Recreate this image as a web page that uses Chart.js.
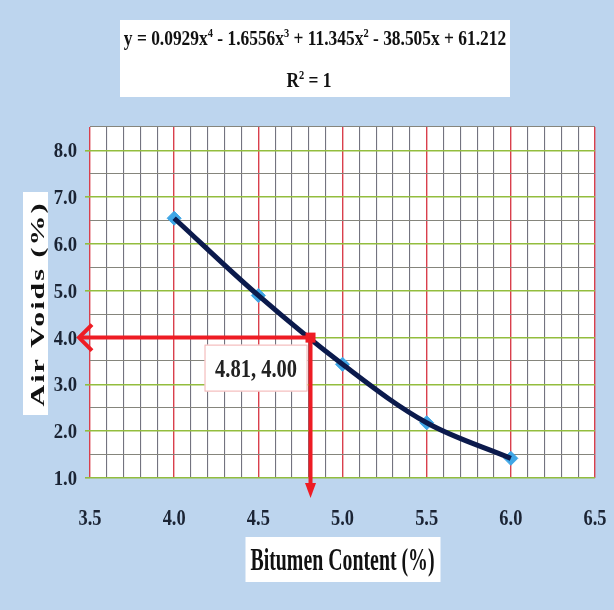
<!DOCTYPE html>
<html>
<head>
<meta charset="utf-8">
<script src="https://cdn.jsdelivr.net/npm/chart.js@4/dist/chart.umd.min.js"></script>
<style>
  html, body { margin: 0; padding: 0; background: #bdd5ee; overflow: hidden; }
  #wrap { width: 614px; height: 610px; position: relative; }
</style>
</head>
<body>
<div id="wrap"><canvas id="chart"></canvas></div>
<script>
// Marshall mix design: air voids against bitumen content
const bitumenContent = [4.0, 4.5, 5.0, 5.5, 6.0];
const airVoids = [6.55, 4.90, 3.43, 2.18, 1.42];

// Design point read at 4 % air voids
const optimumPoint = [4.81, 4.00];

// 4th-order polynomial trend, highest power first
const trendCoefficients = [0.0929, -1.6556, 11.345, -38.505, 61.212];
const trendPowers = [4, 3, 2, 1, 0];
const rSquared = 1;

// Axis ranges, gridline steps and labelled ticks
const xRange = [3.5, 6.5];
const yRange = [1.0, 8.5];
const xGridStep = 0.1;
const yGridStep = 0.5;
const xTickLabels = ['3.5', '4.0', '4.5', '5.0', '5.5', '6.0', '6.5'];
const yTickLabels = ['1.0', '2.0', '3.0', '4.0', '5.0', '6.0', '7.0', '8.0'];

const xTitle = 'Bitumen Content (%)';
const yTitle = 'Air Voids (%)';

const SERIF = "'Liberation Serif', 'Times New Roman', serif";
const BG = '#bdd5ee';
const ARROW_RED = '#ee1c24';
const TICK_INK = '#1b2434';

const near = (v, step) => Math.abs(v / step - Math.round(v / step)) < 1e-6;

function gridValues(range, step) {
  const n = Math.round((range[1] - range[0]) / step);
  const out = [];
  for (let i = 0; i <= n; i++) out.push({ value: +(range[0] + i * step).toFixed(4) });
  return out;
}

// Draws a run of text pieces (some raised as superscripts), squeezed
// horizontally by sx; align is 'center' or 'right' about x.
function drawRich(ctx, pieces, x0, baseY, size, sx, align) {
  ctx.save();
  ctx.translate(x0, baseY);
  ctx.scale(sx, 1);
  ctx.textBaseline = 'alphabetic';
  ctx.textAlign = 'left';
  const fontFor = p => `bold ${p.sup ? Math.round(size * 0.6) : size}px ${SERIF}`;
  let total = 0;
  pieces.forEach(p => { ctx.font = fontFor(p); total += ctx.measureText(p.t).width; });
  let x = align === 'right' ? -total : -total / 2;
  pieces.forEach(p => {
    ctx.font = fontFor(p);
    ctx.fillText(p.t, x, p.sup ? -size * 0.38 : 0);
    x += ctx.measureText(p.t).width;
  });
  ctx.restore();
}

function equationPieces() {
  const pieces = [{ t: 'y = ' }];
  trendCoefficients.forEach((c, i) => {
    const p = trendPowers[i];
    let s = '';
    if (i > 0) s += c < 0 ? ' - ' : ' + ';
    else if (c < 0) s += '-';
    s += String(Math.abs(c));
    if (p >= 1) s += 'x';
    pieces.push({ t: s });
    if (p >= 2) pieces.push({ t: String(p), sup: true });
  });
  return pieces;
}

const decorPlugin = {
  id: 'decor',
  beforeDraw(chart) {
    const { ctx, chartArea: a } = chart;
    ctx.save();
    ctx.fillStyle = BG;
    ctx.fillRect(0, 0, chart.width, chart.height);
    ctx.fillStyle = '#ffffff';
    ctx.fillRect(a.left, a.top, a.right - a.left, a.bottom - a.top);
    ctx.restore();
  },
  afterDatasetsDraw(chart) {
    const { ctx, chartArea: a } = chart;
    const xs = chart.scales.x, ys = chart.scales.y;
    const px = xs.getPixelForValue(optimumPoint[0]);
    const py = ys.getPixelForValue(optimumPoint[1]);

    ctx.save();
    ctx.strokeStyle = ARROW_RED;
    ctx.fillStyle = ARROW_RED;
    ctx.lineWidth = 4;
    ctx.lineCap = 'butt';

    // horizontal leader to the air-void axis
    const tipX = a.left - 12;
    ctx.beginPath();
    ctx.moveTo(px, py);
    ctx.lineTo(tipX + 2, py);
    ctx.stroke();
    ctx.lineJoin = 'miter';
    ctx.beginPath();
    ctx.moveTo(tipX + 14, py - 13);
    ctx.lineTo(tipX + 1, py);
    ctx.lineTo(tipX + 14, py + 13);
    ctx.stroke();

    // vertical leader to the bitumen axis
    const tipY = a.bottom + 20;
    ctx.beginPath();
    ctx.moveTo(px, py);
    ctx.lineTo(px, tipY - 12);
    ctx.stroke();
    ctx.beginPath();
    ctx.moveTo(px - 5.5, tipY - 15);
    ctx.lineTo(px + 5.5, tipY - 15);
    ctx.lineTo(px, tipY);
    ctx.closePath();
    ctx.fill();

    // design point marker
    ctx.fillRect(px - 5, py - 5, 10, 10);

    // data label for the design point
    const bw = 103, bh = 47;
    const bx = px - 3 - bw, by = py + 7;
    ctx.fillStyle = '#ffffff';
    ctx.fillRect(bx, by, bw, bh);
    ctx.lineWidth = 1;
    ctx.strokeStyle = '#f2b0b0';
    ctx.strokeRect(bx + 0.5, by + 0.5, bw - 1, bh - 1);
    ctx.fillStyle = '#222222';
    drawRich(ctx, [{ t: optimumPoint[0].toFixed(2) + ', ' + optimumPoint[1].toFixed(2) }],
      bx + bw / 2, by + 32, 25, 0.82);
    ctx.restore();
  },
  afterDraw(chart) {
    const { ctx, chartArea: a } = chart;
    const xs = chart.scales.x, ys = chart.scales.y;
    ctx.save();

    // tick labels, placed by the scales
    ctx.fillStyle = TICK_INK;
    xTickLabels.forEach(lbl => {
      drawRich(ctx, [{ t: lbl }], xs.getPixelForValue(parseFloat(lbl)), a.bottom + 47, 23, 0.8, 'center');
    });
    yTickLabels.forEach(lbl => {
      drawRich(ctx, [{ t: lbl }], a.left - 13, ys.getPixelForValue(parseFloat(lbl)) + 7, 22, 0.85, 'right');
    });

    // trendline equation box
    ctx.fillStyle = '#ffffff';
    ctx.fillRect(120, 20, 390, 77);
    ctx.fillStyle = '#111111';
    drawRich(ctx, equationPieces(), 315, 45, 20, 0.87);
    drawRich(ctx, [{ t: 'R' }, { t: '2', sup: true }, { t: ' = ' + rSquared }], 309, 87, 20, 0.87);

    // x-axis title
    const xc = (a.left + a.right) / 2;
    ctx.fillStyle = '#ffffff';
    ctx.fillRect(xc - 97, 537, 195, 45);
    ctx.fillStyle = '#111111';
    drawRich(ctx, [{ t: xTitle }], xc, 570, 32, 0.62);

    // y-axis title, rotated
    ctx.fillStyle = '#ffffff';
    ctx.fillRect(23, 192, 25, 223);
    ctx.translate(44, 304);
    ctx.rotate(-Math.PI / 2);
    ctx.scale(1, 0.66);
    ctx.fillStyle = '#111111';
    ctx.font = `bold 30px ${SERIF}`;
    ctx.textAlign = 'center';
    ctx.textBaseline = 'alphabetic';
    try { ctx.letterSpacing = '2px'; } catch (e) {}
    ctx.fillText(yTitle, 0, 0);
    ctx.restore();
  }
};

const seriesPoints = bitumenContent.map((x, i) => ({ x, y: airVoids[i] }));

const ctx = document.getElementById('chart').getContext('2d');
new Chart(ctx, {
  type: 'scatter',
  data: {
    datasets: [
      {
        // measured points, drawn first so the curve sits over them
        label: 'Air Voids',
        data: seriesPoints,
        showLine: false,
        pointStyle: 'rectRot',
        pointRadius: 7,
        pointHoverRadius: 7,
        pointBackgroundColor: '#3fa6e6',
        pointBorderColor: '#3fa6e6',
        pointBorderWidth: 1,
        order: 2
      },
      {
        // smoothed curve through the same points
        label: 'Poly. (Air Voids)',
        data: seriesPoints,
        showLine: true,
        tension: 0.35,
        borderColor: '#0b1a4c',
        borderWidth: 5,
        pointRadius: 0,
        pointHoverRadius: 0,
        order: 1
      }
    ]
  },
  options: {
    responsive: true,
    maintainAspectRatio: false,
    animation: false,
    devicePixelRatio: 1,
    layout: { padding: { left: 0, top: 127, right: 19, bottom: 0 } },
    plugins: { legend: { display: false }, tooltip: { enabled: false } },
    scales: {
      x: {
        type: 'linear',
        min: xRange[0],
        max: xRange[1],
        afterBuildTicks(scale) { scale.ticks = gridValues(xRange, xGridStep); },
        afterFit(scale) { scale.height = 132; },
        border: { display: false },
        grid: {
          drawTicks: false,
          color: c => (c.tick && near(c.tick.value, 0.5)) ? '#d9404c' : '#73737f',
          lineWidth: c => (c.tick && near(c.tick.value, 0.5)) ? 1.4 : 1.1
        },
        ticks: { display: false },
        title: { display: false }
      },
      y: {
        type: 'linear',
        min: yRange[0],
        max: yRange[1],
        afterBuildTicks(scale) { scale.ticks = gridValues(yRange, yGridStep); },
        afterFit(scale) { scale.width = 90; },
        border: { display: false },
        grid: {
          drawTicks: true,
          tickLength: 5,
          color: c => (c.tick && near(c.tick.value, 1)) ? '#93bd3e' : '#85857c',
          tickColor: c => (c.tick && near(c.tick.value, 1)) ? '#93bd3e' : 'rgba(0,0,0,0)',
          lineWidth: c => (c.tick && near(c.tick.value, 1)) ? 1.6 : 1.1
        },
        ticks: { display: false },
        title: { display: false }
      }
    }
  },
  plugins: [decorPlugin]
});
</script>
</body>
</html>
